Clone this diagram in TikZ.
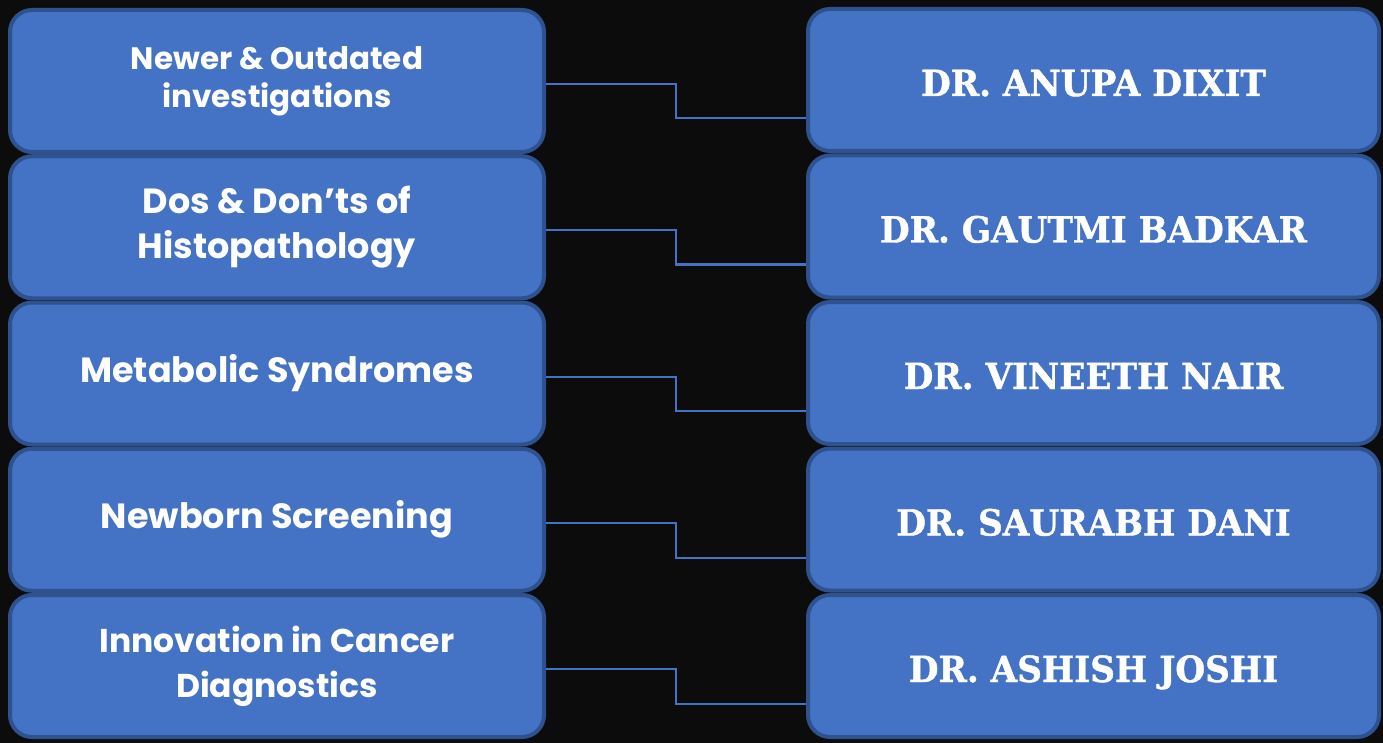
\documentclass[tikz,border=0pt]{standalone}
\usepackage{fontspec}
\newfontfamily\topicfont{Poppins}
\newfontfamily\namefont{DejaVu Serif}[FakeStretch=0.95, FakeBold=1.2]
\definecolor{boxblue}{HTML}{4472C4}
\definecolor{boxedge}{HTML}{2F528F}
\definecolor{bgblack}{HTML}{0C0C0C}
\tikzset{
    panel/.style={draw=boxedge, line width=4pt, fill=boxblue, rounded corners=22pt,
        text=white, align=center, inner sep=0pt, minimum height=142pt},
    topic/.style={panel, minimum width=534pt},
    speaker/.style={panel, minimum width=571pt, text height=32pt, text depth=0pt,
        font=\namefont\bfseries\fontsize{36}{42}\selectfont},
    link/.style={draw=boxblue, line width=2pt}
}
\begin{document}
\begin{tikzpicture}[x=1pt,y=1pt]
    % Background
    \fill[bgblack] (0,0) rectangle (1383,-743);
    \useasboundingbox (0,0) rectangle (1383,-743);

    % Topics and speakers
    \foreach \i/\fs/\ls/\topic/\name in {
        1/31/38/{Newer \& Outdated\\investigations}/{DR. ANUPA DIXIT},
        2/35/45/{Dos \& Don’ts of\\Histopathology}/{DR. GAUTMI BADKAR},
        3/35/45/{Metabolic Syndromes}/{DR. VINEETH NAIR},
        4/35/45/{Newborn Screening}/{DR. SAURABH DANI},
        5/33/45/{Innovation in Cancer\\Diagnostics}/{DR. ASHISH JOSHI}} {
        \node[topic, font=\topicfont\bfseries\fontsize{\fs}{\ls}\selectfont]
            (t\i) at (277,{-81-146.25*(\i-1)}) {\topic};
        \node[speaker] (s\i) at (1093.5,{-80-146.5*(\i-1)}) {\name};
    }

    % Links
    \foreach \i in {1,...,5} {
        \draw[link] ([yshift=-3pt]t\i.east) -- ++(130,0) |- ([yshift=-38pt]s\i.west);
    }
\end{tikzpicture}
\end{document}
